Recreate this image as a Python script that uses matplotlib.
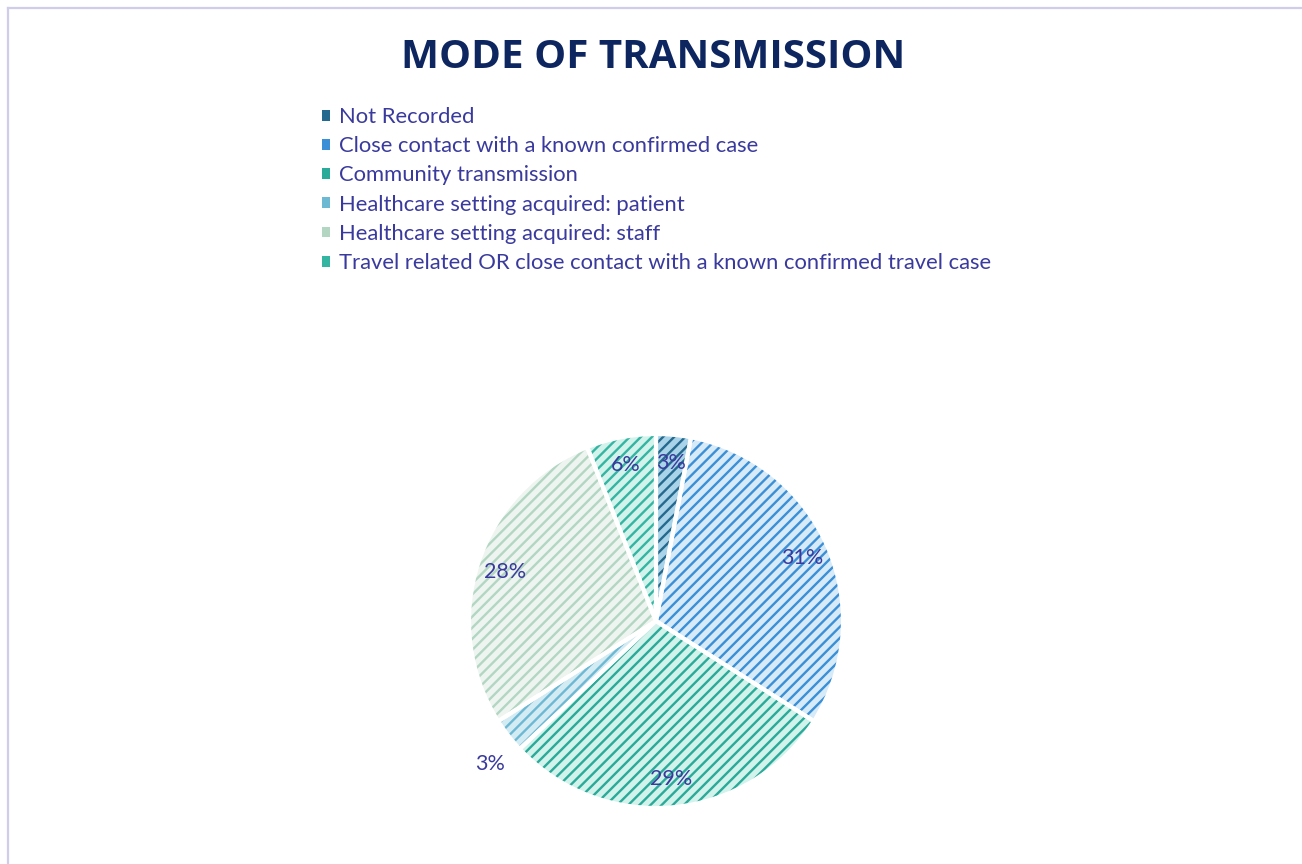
import matplotlib
matplotlib.use("Agg")
import matplotlib.pyplot as plt
from matplotlib.patches import Patch
from matplotlib.lines import Line2D
import numpy as np

categories = [
    "Not Recorded",
    "Close contact with a known confirmed case",
    "Community transmission",
    "Healthcare setting acquired: patient",
    "Healthcare setting acquired: staff",
    "Travel related OR close contact with a known confirmed travel case",
]
shares = [3, 31, 29, 3, 28, 6]

line_colors = ["#256A8E", "#3A8FD6", "#2AAA98", "#6DB9D4", "#B3D6C3", "#33B5A2"]
bg_colors = ["#A9D3E8", "#D6EAF8", "#D2F2EC", "#D3EBF3", "#EEF5F0", "#D2F2EC"]

title_color = "#0E2660"
text_color = "#3A3A9E"

plt.rcParams['font.family'] = ['Lato', 'DejaVu Sans']
plt.rcParams['hatch.linewidth'] = 1.7

fig = plt.figure(figsize=(13.02, 8.64), dpi=100)
fig.patch.set_facecolor("white")

# border
border_col = "#D0CCEC"
fig.add_artist(Line2D([7.5/1302, 1], [1 - 7.5/864, 1 - 7.5/864], transform=fig.transFigure, color=border_col, lw=1.6))
fig.add_artist(Line2D([7.5/1302, 7.5/1302], [0, 1 - 7.5/864], transform=fig.transFigure, color=border_col, lw=1.6))

cx, cy, R = 656, 864 - 621, 187
ax = fig.add_axes([(cx - R)/1302, (cy - R)/864, 2*R/1302, 2*R/864])
ax.axis('off')

# background fill
wedges, _ = ax.pie(shares, startangle=90, counterclock=False, radius=1.0,
                   colors=bg_colors, wedgeprops=dict(linewidth=0))
# hatch layer
hw, _ = ax.pie(shares, startangle=90, counterclock=False, radius=1.0,
               colors=["none"]*len(shares), wedgeprops=dict(linewidth=0, fill=False))
for w, lc in zip(hw, line_colors):
    w.set_hatch('///')
    w.set_edgecolor(lc)
    w.set_linewidth(0)
# white separators
ow, _ = ax.pie(shares, startangle=90, counterclock=False, radius=1.0,
               wedgeprops=dict(linewidth=3, edgecolor="white", fill=False))
ax.set_xlim(-1, 1)
ax.set_ylim(-1, 1)
ax.set_aspect('equal')

# labels
total = sum(shares)
cum = 0
for i, s in enumerate(shares):
    mid = 90 - 360 * (cum + s / 2) / total
    cum += s
    if i == 3:
        mid += 3
    r = 1.17 if i == 3 else 0.85
    x = r * np.cos(np.radians(mid))
    y = r * np.sin(np.radians(mid))
    ax.text(x, y, f"{s}%", ha='center', va='center', fontsize=15.5, color=text_color)

fig.text(653/1302, 1 - 58/864, "MODE OF TRANSMISSION", ha='center', va='center',
         fontsize=29, fontweight='bold', color=title_color, family=['Open Sans', 'DejaVu Sans'])

handles = [Patch(facecolor=lc, edgecolor='none', linewidth=0) for bg, lc in zip(bg_colors, line_colors)]
leg = fig.legend(handles, categories, loc='upper left', bbox_to_anchor=(322/1302, 1 - 107/864),
                 frameon=False, fontsize=15.8, labelcolor=text_color,
                 handlelength=0.38, handleheight=0.38, handletextpad=0.4, labelspacing=0.42,
                 borderpad=0, borderaxespad=0)

fig.savefig("out.png", dpi=100, facecolor="white")
